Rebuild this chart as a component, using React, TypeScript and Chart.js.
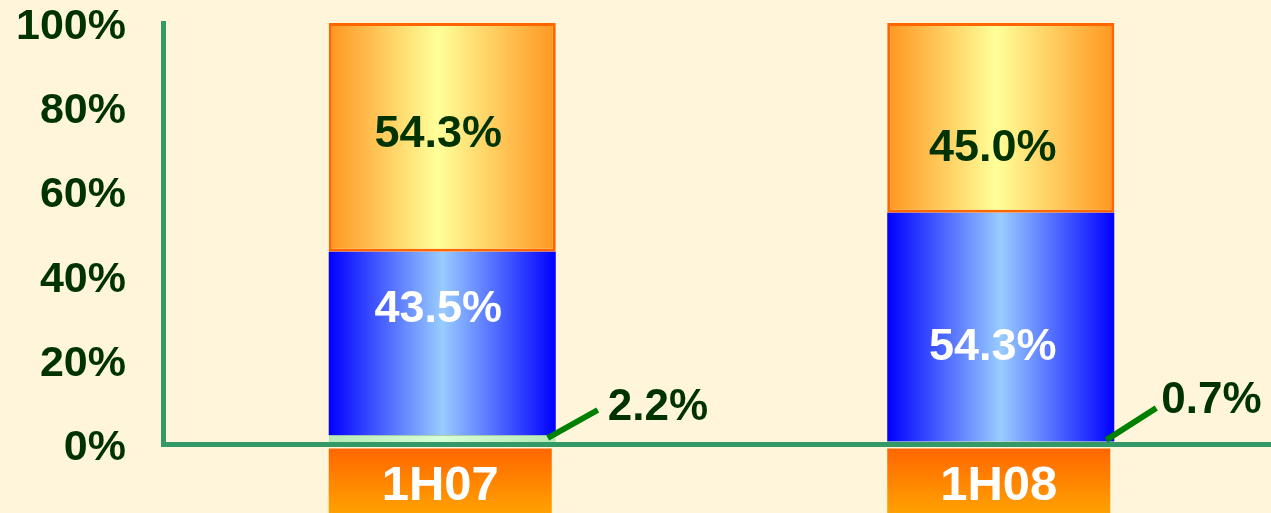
import React, { useEffect, useRef } from "react";
import { Chart, registerables } from "chart.js";

Chart.register(...registerables);

// ---- data ----
const categories = ["1H07", "1H08"];
const otherShare = [2.2, 0.7];
const blueShare = [43.5, 54.3];
const orangeShare = [54.3, 45.0];
const yTickValues = [0, 20, 40, 60, 80, 100];

// ---- styling ----
const BG = "#fff5da";
const AXIS_GREEN = "#339966";
const DARK_GREEN = "#003300";
const FONT = "'Liberation Sans', Arial, sans-serif";
const BAR_PCT = 0.4065;
const ORANGE_STOPS: [number, string][] = [[0, "#ff9620"], [0.48, "#ffff99"], [1, "#ff9620"]];
const BLUE_STOPS: [number, string][] = [[0, "#0000ff"], [0.5, "#99ccff"], [1, "#0000ff"]];
const GREEN_STOPS: [number, string][] = [[0, "#b5eab5"], [0.5, "#d8ffd8"], [1, "#b5eab5"]];
// manual label nudges (px) as in the original slide
const ORANGE_LABEL_DY = [-7, 27];
const BLUE_LABEL_DY = [-38, 17];
const LABEL_DX = [-4, -8];
const OUTSIDE_LABEL_RISE = [40, 47];
const OUTSIDE_LABEL_DX = [52, 47];
const LEADER_START_RISE = [6, 4];
const LEADER_RISE = [34, 36];

function hGrad(chart: any, index: number, stops: [number, string][]) {
  const { ctx, chartArea, scales } = chart;
  if (!chartArea || !scales || !scales.x || index === undefined) return stops[1][1];
  const cx = scales.x.getPixelForValue(index);
  const half = (scales.x.width / categories.length) * BAR_PCT / 2;
  const g = ctx.createLinearGradient(cx - half, 0, cx + half, 0);
  stops.forEach(([o, c]) => g.addColorStop(o, c));
  return g;
}

const labelsPlugin = {
  id: "sketchLabels",
  afterDraw(chart: any) {
    const { ctx, chartArea } = chart;
    const metaGreen = chart.getDatasetMeta(0);
    const metaBlue = chart.getDatasetMeta(1);
    const metaOrange = chart.getDatasetMeta(2);
    ctx.save();
    categories.forEach((cat, i) => {
      const eo = metaOrange.data[i] as any;
      const eb = metaBlue.data[i] as any;
      const eg = metaGreen.data[i] as any;
      const left = eo.x - eo.width / 2;
      const right = eo.x + eo.width / 2;
      const base = eg.base;

      // in-bar labels
      const fs = 45;
      ctx.font = `bold ${fs}px ${FONT}`;
      ctx.textAlign = "center";
      ctx.textBaseline = "alphabetic";
      const oy = (eo.y + eo.base) / 2 + ORANGE_LABEL_DY[i];
      ctx.fillStyle = DARK_GREEN;
      ctx.fillText(orangeShare[i].toFixed(1) + "%", eo.x + LABEL_DX[i], oy + fs * 0.358);
      const by = (eb.y + eb.base) / 2 + BLUE_LABEL_DY[i];
      ctx.fillStyle = "#ffffff";
      ctx.fillText(blueShare[i].toFixed(1) + "%", eb.x + LABEL_DX[i], by + fs * 0.358);

      // leader + outside label
      ctx.strokeStyle = "#008000";
      ctx.lineWidth = 6;
      ctx.lineCap = "butt";
      ctx.beginPath();
      ctx.moveTo(right - 8, base - LEADER_START_RISE[i]);
      ctx.lineTo(right + 42, base - LEADER_RISE[i]);
      ctx.stroke();
      const ofs = 44;
      ctx.font = `bold ${ofs}px ${FONT}`;
      ctx.textAlign = "left";
      ctx.fillStyle = DARK_GREEN;
      ctx.fillText(
        otherShare[i].toFixed(1) + "%",
        right + OUTSIDE_LABEL_DX[i],
        base - OUTSIDE_LABEL_RISE[i] + ofs * 0.358
      );

      // category label box
      const top = chartArea.bottom + 4;
      const boxRight = right - 4;
      const g = ctx.createLinearGradient(0, top, 0, top + 66);
      g.addColorStop(0, "#ff6600");
      g.addColorStop(1, "#ffa300");
      ctx.fillStyle = g;
      ctx.fillRect(left, top, boxRight - left, chart.height - top);
      const xfs = 49;
      ctx.font = `bold ${xfs}px ${FONT}`;
      ctx.textAlign = "center";
      ctx.fillStyle = "#ffffff";
      ctx.fillText(cat, (left + boxRight) / 2, top + 34 + xfs * 0.358);
    });
    ctx.restore();
  },
};

export default function App() {
  const canvasRef = useRef<HTMLCanvasElement | null>(null);

  useEffect(() => {
    const canvas = canvasRef.current;
    if (!canvas) return;
    const chart = new Chart(canvas, {
      type: "bar",
      data: {
        labels: categories,
        datasets: [
          {
            label: "Other",
            data: otherShare,
            backgroundColor: (c: any) => hGrad(c.chart, c.dataIndex, GREEN_STOPS),
            borderColor: "#7cc48a",
            borderWidth: { top: 1, left: 0, right: 0, bottom: 0 },
            borderSkipped: false,
          },
          {
            label: "Blue",
            data: blueShare,
            backgroundColor: (c: any) => hGrad(c.chart, c.dataIndex, BLUE_STOPS),
            borderWidth: 0,
          },
          {
            label: "Orange",
            data: orangeShare,
            backgroundColor: (c: any) => hGrad(c.chart, c.dataIndex, ORANGE_STOPS),
            borderColor: "#ff6600",
            borderWidth: 3,
            borderSkipped: false,
          },
        ],
      },
      options: {
        animation: false,
        responsive: true,
        maintainAspectRatio: false,
        layout: { padding: { top: 23, left: 0, right: 0, bottom: 0 } },
        datasets: { bar: { barPercentage: BAR_PCT, categoryPercentage: 1 } },
        plugins: { legend: { display: false }, tooltip: { enabled: false } },
        scales: {
          x: {
            stacked: true,
            ticks: { display: false },
            grid: { color: "transparent", drawTicks: false },
            border: { display: true, color: AXIS_GREEN, width: 5, z: 1 },
            afterFit: (s: any) => {
              s.height = 68.5;
              s.paddingLeft = 0;
              s.paddingRight = 0;
            },
          },
          y: {
            stacked: true,
            min: 0,
            max: 100,
            afterBuildTicks: (s: any) => {
              s.ticks = yTickValues.map((v) => ({ value: v }));
            },
            ticks: {
              callback: (v: any) => v + "%",
              color: DARK_GREEN,
              font: { family: FONT, weight: "bold", size: 43 },
              padding: 37,
              labelOffset: 4,
            },
            grid: { color: "transparent", drawTicks: false },
            border: { display: true, color: AXIS_GREEN, width: 5, z: 1 },
            afterFit: (s: any) => {
              s.width = 163;
              s.paddingTop = 0;
              s.paddingBottom = 0;
            },
          },
        },
      },
      plugins: [labelsPlugin],
    });
    return () => chart.destroy();
  }, []);

  return (
    <div
      style={{
        position: "fixed",
        left: 0,
        top: 0,
        width: 1271,
        height: 513,
        overflow: "hidden",
        background: BG,
      }}
    >
      <div style={{ position: "relative", width: 1280, height: 513 }}>
        <canvas ref={canvasRef} style={{ display: "block" }} />
      </div>
    </div>
  );
}
